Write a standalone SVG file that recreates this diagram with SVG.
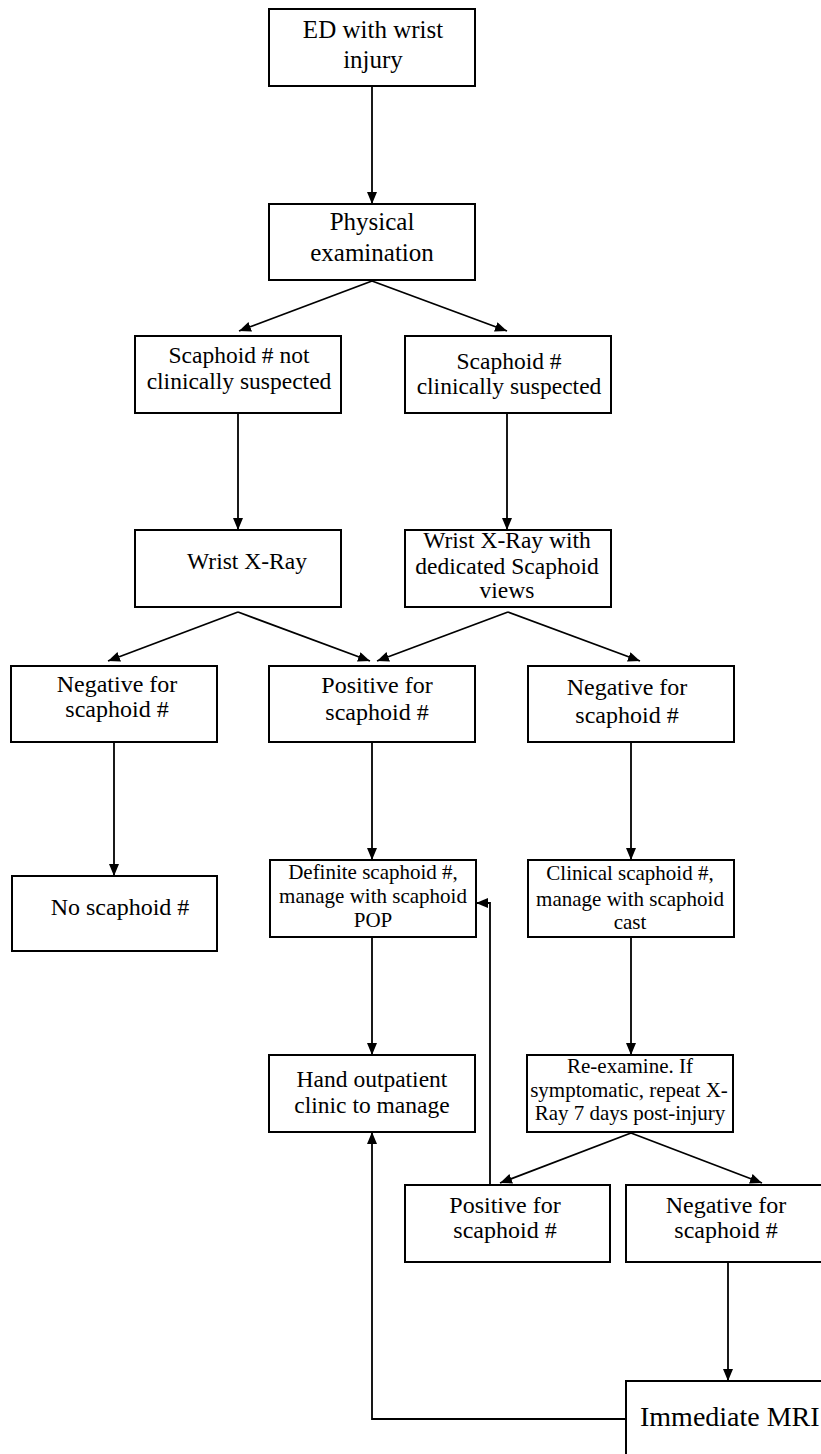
<svg xmlns="http://www.w3.org/2000/svg" width="821" height="1454" viewBox="0 0 821 1454">
<style>
.box{fill:#fff;stroke:#000;stroke-width:2}
.t{font-family:"Liberation Serif","Times New Roman",serif;fill:#000;text-anchor:middle}
.f25{font-size:25px}
.f24{font-size:24px}
.f23{font-size:23.5px}
.f21{font-size:21px}
.f28{font-size:28px;text-anchor:start}
.c{fill:none;stroke:#000;stroke-width:1.8}
</style>
<defs>
<marker id="ah" markerUnits="userSpaceOnUse" markerWidth="13" markerHeight="10" refX="12" refY="5" orient="auto">
<path d="M0,0 L12,5 L0,10 z" fill="#000"/>
</marker>
</defs>
<rect width="821" height="1454" fill="#fff"/>
<g id="connectors">
<line class="c" x1="372" y1="86" x2="372" y2="204" marker-end="url(#ah)"/>
<line class="c" x1="372" y1="281" x2="239" y2="331" marker-end="url(#ah)"/>
<line class="c" x1="372" y1="281" x2="507" y2="331" marker-end="url(#ah)"/>
<line class="c" x1="238" y1="413" x2="238" y2="530" marker-end="url(#ah)"/>
<line class="c" x1="507" y1="413" x2="507" y2="530" marker-end="url(#ah)"/>
<line class="c" x1="238" y1="612" x2="108" y2="661" marker-end="url(#ah)"/>
<line class="c" x1="238" y1="612" x2="370" y2="661" marker-end="url(#ah)"/>
<line class="c" x1="508" y1="612" x2="377" y2="661" marker-end="url(#ah)"/>
<line class="c" x1="508" y1="612" x2="640" y2="661" marker-end="url(#ah)"/>
<line class="c" x1="114" y1="742" x2="114" y2="876" marker-end="url(#ah)"/>
<line class="c" x1="372" y1="742" x2="372" y2="860" marker-end="url(#ah)"/>
<line class="c" x1="631" y1="742" x2="631" y2="860" marker-end="url(#ah)"/>
<line class="c" x1="372" y1="937" x2="372" y2="1055" marker-end="url(#ah)"/>
<line class="c" x1="631" y1="937" x2="631" y2="1055" marker-end="url(#ah)"/>
<line class="c" x1="631" y1="1133" x2="500" y2="1183" marker-end="url(#ah)"/>
<line class="c" x1="631" y1="1133" x2="762" y2="1183" marker-end="url(#ah)"/>
<polyline class="c" points="490,1185 490,903 476,903" marker-end="url(#ah)"/>
<line class="c" x1="728" y1="1262" x2="728" y2="1381" marker-end="url(#ah)"/>
<polyline class="c" points="626,1419 372,1419 372,1132" marker-end="url(#ah)"/>
</g>
<g id="n1"><rect class="box" x="269" y="9" width="206" height="77"/>
<text class="t f25" x="373" y="38">ED with wrist</text><text class="t f25" x="373" y="68">injury</text></g>
<g id="n2"><rect class="box" x="269" y="204" width="206" height="76"/>
<text class="t f25" x="372" y="230">Physical</text><text class="t f25" x="372" y="261">examination</text></g>
<g id="n3"><rect class="box" x="135" y="336" width="206" height="77"/>
<text class="t f23" x="239" y="363">Scaphoid # not</text><text class="t f23" x="239" y="389">clinically suspected</text></g>
<g id="n4"><rect class="box" x="405" y="336" width="206" height="77"/>
<text class="t f23" x="509" y="369">Scaphoid #</text><text class="t f23" x="509" y="394">clinically suspected</text></g>
<g id="n5"><rect class="box" x="135" y="530" width="206" height="77"/>
<text class="t f23" x="247" y="569">Wrist X-Ray</text></g>
<g id="n6"><rect class="box" x="405" y="530" width="206" height="77"/>
<text class="t f23" x="507" y="548">Wrist X-Ray with</text><text class="t f23" x="507" y="574">dedicated Scaphoid</text><text class="t f23" x="507" y="598">views</text></g>
<g id="n7"><rect class="box" x="11" y="666" width="206" height="76"/>
<text class="t f24" x="117" y="692">Negative for</text><text class="t f24" x="117" y="717">scaphoid #</text></g>
<g id="n8"><rect class="box" x="269" y="666" width="206" height="76"/>
<text class="t f24" x="377" y="693">Positive for</text><text class="t f24" x="377" y="720">scaphoid #</text></g>
<g id="n9"><rect class="box" x="528" y="666" width="206" height="76"/>
<text class="t f24" x="627" y="695">Negative for</text><text class="t f24" x="627" y="723">scaphoid #</text></g>
<g id="n10"><rect class="box" x="12" y="876" width="205" height="75"/>
<text class="t f24" x="120" y="915">No scaphoid #</text></g>
<g id="n11"><rect class="box" x="270" y="860" width="206" height="77"/>
<text class="t f21" x="373" y="879">Definite scaphoid #,</text><text class="t f21" x="373" y="903">manage with scaphoid</text><text class="t f21" x="373" y="927">POP</text></g>
<g id="n12"><rect class="box" x="528" y="860" width="206" height="77"/>
<text class="t f21" x="630" y="880">Clinical scaphoid #,</text><text class="t f21" x="630" y="906">manage with scaphoid</text><text class="t f21" x="630" y="929">cast</text></g>
<g id="n13"><rect class="box" x="269" y="1055" width="206" height="77"/>
<text class="t f23" x="372" y="1087">Hand outpatient</text><text class="t f23" x="372" y="1113">clinic to manage</text></g>
<g id="n14"><rect class="box" x="527" y="1055" width="206" height="77"/>
<text class="t f21" x="630" y="1073">Re-examine. If</text><text class="t f21" x="629" y="1097">symptomatic, repeat X-</text><text class="t f21" x="630" y="1120">Ray 7 days post-injury</text></g>
<g id="n15"><rect class="box" x="405" y="1185" width="205" height="77"/>
<text class="t f24" x="505" y="1213">Positive for</text><text class="t f24" x="505" y="1238">scaphoid #</text></g>
<g id="n16"><rect class="box" x="626" y="1185" width="210" height="77"/>
<text class="t f24" x="726" y="1213">Negative for</text><text class="t f24" x="726" y="1238">scaphoid #</text></g>
<g id="n17"><rect class="box" x="626" y="1381" width="210" height="80"/>
<text class="t f28" x="640" y="1426">Immediate MRI</text></g>
</svg>
